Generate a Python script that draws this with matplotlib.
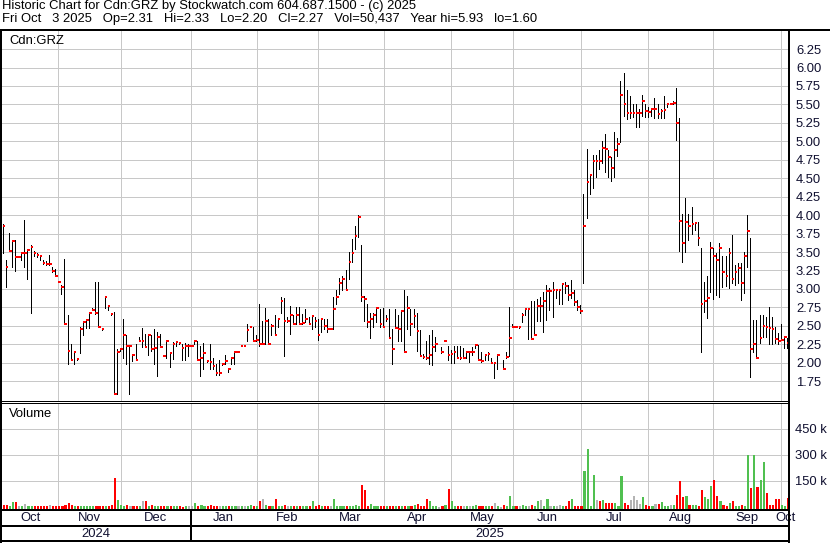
import numpy as np
import matplotlib.pyplot as plt
from matplotlib.lines import Line2D

plt.rcParams['font.family'] = ['Liberation Sans', 'DejaVu Sans']

nan = float('nan')

# daily bars, Oct 2024 .. Oct 3 2025 (nan = no trade)
highs = [
    3.88, 3.39, 3.76, 3.66, 3.66, 3.43, 3.49, 3.94, 3.54, 3.60,
    3.51, 3.48, 3.45, 3.39, 3.38, 3.46, 3.30, 3.27, 3.10, 3.05,
    3.41, 2.65, 2.25, 2.15, 2.06, 2.48, 2.56, 2.58, 2.68, 2.74,
    3.10, 3.10, 2.47, 2.90, 2.77, 2.68, 2.69, 2.19, 2.20, 2.59,
    2.38, 2.22, 2.11, 2.25, 2.35, 2.47, 2.39, 2.38, 2.37, 2.46,
    2.41, 2.39, 2.09, 2.30, 2.13, 2.28, 2.29, 2.28, 2.25, 2.27,
    2.25, 2.23, 2.30, 2.29, 2.22,
    2.27, 2.03, 2.25, 2.06, 1.98, 2.04, 1.98, 2.11, 1.92, 2.07,
    2.15, 2.14, 2.23, 2.23, 2.53, 2.48, 2.48, 2.37, 2.79, 2.57,
    2.74, 2.59, 2.53, 2.64, 2.59, 2.89, 2.88, 2.62, 2.77, 2.64,
    2.75, 2.75, 2.66, 2.73, 2.62, 2.64, 2.62, 2.59, 2.59, 2.59,
    2.59, 2.47, 2.89, 2.99, 3.15, 3.18, 3.25, 3.50, 3.67, 3.85,
    4.00, 3.59, 2.91, 2.80, 2.68, 2.68, 2.74, 2.73, 2.74, 2.65,
    2.73, 2.46, 2.73, 2.64, 2.71, 2.98, 2.91, 2.73, 2.73, 2.68,
    2.44, 2.12, 2.30, 2.38, 2.44, 2.35, nan, 2.21, 2.29, 2.23,
    2.17, 2.22, 2.22, 2.23, 2.20, 2.16, 2.16, 2.21, 2.24, 2.24,
    2.14, 2.12, 2.14, 2.07, 2.01, 2.10, nan, 2.04, 2.15, 2.75,
    2.53, 2.48, 2.50, 2.68, 2.74, 2.73, 2.84, 2.84, 2.87, 2.89,
    2.96, 3.05, 3.01, 3.10, 3.00, 3.00, 3.08,
    3.10, 3.05, 3.12, 2.98, 2.85, 2.78,
    4.29, 4.89, 4.55, 4.81, 4.81, 4.88, 5.00, 5.10, 4.88, 4.79,
    5.13, 5.05, 5.82, 5.93, 5.69, 5.61, 5.50, 5.50, 5.44, 5.63,
    5.51, 5.47, 5.44, 5.59, 5.51, 5.44, 5.61, 5.52, 5.52, 5.54,
    5.72, 5.31,
    4.02, 4.23, 4.02, 4.11, 3.91, 3.90, 3.55, 3.10, 3.17, 3.64,
    3.55, 3.48, 3.62, 3.44, 3.44, 3.55, 3.73, 3.32, 3.35, 3.35,
    3.50, 4.00, 3.69, 2.58, 2.58, 2.65, 2.65, 2.62, 2.76, 2.62,
    2.49, 2.40, 2.53, 2.35, 2.33,
]
lows = [
    3.48, 3.03, 3.52, 3.30, 3.24, 3.43, 3.39, 3.30, 3.13, 2.68,
    3.44, 3.43, 3.39, 3.34, 3.33, 3.33, 3.23, 3.18, 3.10, 2.93,
    2.53, 1.98, 2.03, 1.98, 2.04, 2.13, 2.38, 2.47, 2.47, 2.71,
    2.66, 2.48, 2.44, 2.74, 2.71, 2.64, 1.58, 1.58, 2.16, 2.07,
    1.98, 1.58, 2.02, 2.03, 2.29, 2.21, 2.21, 2.10, 2.16, 1.98,
    1.82, 2.21, 2.09, 2.07, 1.94, 2.05, 2.22, 2.26, 2.03, 2.03,
    2.09, 2.23, 2.26, 2.03, 1.82,
    1.92, 2.01, 1.92, 1.92, 1.84, 1.84, 1.97, 1.98, 1.87, 1.98,
    1.98, 2.14, 2.23, 2.23, 2.30, 2.48, 2.30, 2.30, 2.23, 2.25,
    2.25, 2.26, 2.37, 2.37, 2.48, 2.68, 2.09, 2.55, 2.39, 2.52,
    2.53, 2.53, 2.53, 2.55, 2.53, 2.46, 2.48, 2.31, 2.41, 2.45,
    2.41, 2.45, 2.46, 2.80, 2.93, 2.98, 2.98, 3.14, 3.36, 3.54,
    3.70, 2.84, 2.57, 2.48, 2.34, 2.48, 2.55, 2.48, 2.48, 2.57,
    2.34, 1.98, 2.47, 2.30, 2.30, 2.15, 2.46, 2.38, 2.48, 2.16,
    2.09, 2.06, 2.05, 1.98, 1.97, 2.16, nan, 2.13, 2.29, 2.04,
    1.99, 1.99, 2.06, 2.05, 2.06, 2.06, 2.01, 2.10, 2.20, 2.03,
    2.01, 2.03, 2.04, 1.99, 1.79, 1.92, nan, 1.92, 2.07, 2.09,
    2.48, 2.48, 2.47, 2.55, 2.64, 2.32, 2.32, 2.37, 2.57, 2.57,
    2.41, 2.58, 2.71, 2.62, 2.88, 2.80, 2.80,
    2.95, 2.85, 2.88, 2.78, 2.72, 2.68,
    3.08, 3.96, 4.29, 4.37, 4.51, 4.63, 4.70, 4.58, 4.51, 4.46,
    4.51, 4.80, 4.99, 5.34, 5.30, 5.32, 5.33, 5.20, 5.20, 5.34,
    5.33, 5.33, 5.34, 5.31, 5.32, 5.32, 5.31, 5.47, 5.50, 5.50,
    5.02, 3.52,
    3.37, 3.50, 3.66, 3.75, 3.80, 3.60, 2.15, 2.69, 2.60, 2.96,
    2.87, 2.92, 2.89, 3.03, 3.04, 3.01, 3.08, 3.05, 3.08, 2.85,
    2.94, 3.30, 1.81, 2.15, 2.07, 2.27, 2.35, 2.35, 2.26, 2.26,
    2.27, 2.26, 2.31, 2.20, 2.20,
]
closes = [
    3.85, 3.30, 3.52, 3.65, 3.43, 3.43, 3.49, 3.49, 3.53, 3.57,
    3.49, 3.46, 3.44, 3.35, 3.34, 3.34, 3.24, 3.18, 3.10, 3.02,
    2.53, 2.16, 2.03, 2.14, 2.05, 2.46, 2.55, 2.58, 2.68, 2.72,
    2.67, 2.48, 2.45, 2.89, 2.77, 2.66, 1.58, 2.14, 2.18, 2.37,
    2.22, 2.22, 2.10, 2.03, 2.29, 2.29, 2.21, 2.37, 2.19, 2.20,
    2.35, 2.21, 2.09, 2.29, 2.13, 2.26, 2.28, 2.27, 2.20, 2.23,
    2.23, 2.23, 2.29, 2.03, 2.06,
    2.13, 2.02, 2.01, 1.95, 1.86, 1.86, 1.98, 2.02, 1.91, 2.06,
    2.14, 2.14, 2.23, 2.23, 2.44, 2.48, 2.30, 2.31, 2.25, 2.25,
    2.57, 2.26, 2.50, 2.37, 2.59, 2.83, 2.57, 2.57, 2.64, 2.52,
    2.64, 2.53, 2.54, 2.59, 2.53, 2.63, 2.56, 2.38, 2.59, 2.50,
    2.46, 2.46, 2.73, 2.89, 3.08, 3.13, 2.98, 3.37, 3.49, 3.72,
    3.97, 2.89, 2.86, 2.55, 2.59, 2.65, 2.74, 2.53, 2.48, 2.59,
    2.34, 2.18, 2.47, 2.46, 2.70, 2.15, 2.74, 2.52, 2.63, 2.43,
    2.09, 2.08, 2.06, 2.11, 2.21, 2.25, nan, 2.14, 2.29, 2.11,
    2.12, 2.15, 2.07, 2.06, 2.06, 2.14, 2.14, 2.15, 2.24, 2.04,
    2.02, 2.10, 2.12, 1.99, 1.99, 2.10, nan, 1.92, 2.08, 2.33,
    2.49, 2.48, 2.48, 2.64, 2.73, 2.73, 2.32, 2.38, 2.77, 2.77,
    2.84, 2.97, 2.97, 2.98, 2.98, 2.98, 3.06,
    3.04, 2.92, 2.95, 2.82, 2.75, 2.70,
    3.85, 4.45, 4.55, 4.74, 4.74, 4.73, 4.91, 4.89, 4.79, 4.64,
    4.88, 4.96, 5.63, 5.51, 5.39, 5.39, 5.39, 5.39, 5.39, 5.54,
    5.41, 5.40, 5.44, 5.44, 5.37, 5.41, 5.42, 5.50, 5.50, 5.52,
    5.25, 3.92,
    3.62, 3.91, 3.85, 3.88, 3.89, 3.69, 2.80, 2.83, 2.88, 3.55,
    3.44, 3.39, 3.55, 3.23, 3.17, 3.49, 3.13, 3.23, 3.29, 3.08,
    3.45, 3.79, 2.18, 2.25, 2.07, 2.34, 2.50, 2.48, 2.47, 2.45,
    2.32, 2.30, 2.31, 2.35, 2.27,
]
# volume, thousands of shares
volumes_k = [
    12, 8, 4, 26, 30, 3, 4, 16, 5, 4,
    3, 5, 4, 3, 6, 12, 4, 4, 6, 3,
    10, 24, 12, 4, 3, 5, 4, 3, 5, 6,
    4, 5, 3, 6, 4, 8, 169, 42, 12, 5,
    12, 6, 5, 4, 3, 36, 36, 4, 12, 6,
    4, 3, 5, 4, 3, 6, 4, 3, 2, 4,
    3, 5, 20, 4, 12, 3, 5, 10, 5, 3,
    4, 6, 3, 4, 5, 3, 4, 6, 3, 5,
    8, 4, 6, 32, 43, 8, 4, 5, 48, 6,
    4, 12, 5, 3, 4, 6, 3, 5, 4, 6,
    32, 4, 8, 5, 3, 4, 6, 43, 5, 4,
    3, 6, 4, 5, 8, 6, 129, 98, 5, 16,
    4, 6, 3, 5, 4, 6, 3, 4, 5, 3,
    6, 4, 5, 8, 16, 6, 4, 43, 32, 5,
    4, 0, 3, 8, 105, 32, 5, 4, 6, 3,
    4, 5, 6, 12, 4, 3, 6, 5, 4, 20,
    6, 0, 8, 5, 65, 6, 4, 5, 12, 4,
    6, 8, 5, 36, 40, 6, 45, 5, 4, 6,
    8, 5, 6, 36, 43, 5, 3, 4, 206, 332,
    5, 187, 41, 36, 40, 25, 25, 25, 25, 6,
    181, 25, 10, 40, 65, 42, 16, 59, 12, 6,
    5, 16, 16, 26, 6, 5, 8, 12, 70, 148,
    59, 65, 12, 12, 12, 6, 98, 59, 45, 123,
    158, 61, 36, 8, 6, 25, 36, 5, 6, 8,
    5, 301, 107, 301, 113, 158, 258, 82, 12, 12,
    47, 43, 12, 6, 50.437,
]

# first bar of each month, in bar units
month_starts = [17.9, 38.3, 60.8, 82.2, 102.0, 123.3, 145.0, 165.3, 187.2, 208.9, 230.0, 252.0]
month_names = ['Oct', 'Nov', 'Dec', 'Jan', 'Feb', 'Mar', 'Apr', 'May', 'Jun', 'Jul', 'Aug', 'Sep', 'Oct']
years = ['2024', '2025']
price_ticks = [1.75, 2.00, 2.25, 2.50, 2.75, 3.00, 3.25, 3.50, 3.75, 4.00, 4.25,
               4.50, 4.75, 5.00, 5.25, 5.50, 5.75, 6.00, 6.25]
vol_ticks = [150000, 300000, 450000]
vol_labels = ['150 k', '300 k', '450 k']

line1 = 'Historic Chart for Cdn:GRZ by Stockwatch.com 604.687.1500 - (c) 2025'
line2 = 'Fri Oct   3 2025   Op=2.31   Hi=2.33   Lo=2.20   Cl=2.27   Vol=50,437   Year hi=5.93   lo=1.60'

W, H = 830, 543
PX = 0.72  # one pixel in points
FS = 9.4
GRID = '#c8c8c8'
RED = '#ff0000'
GREEN = '#50c050'
GREY = '#b4b4b4'
LBL = '#101030'

hi = np.array(highs)
lo = np.array(lows)
cl = np.array(closes)
vol = np.array(volumes_k) * 1000
x = np.arange(len(cl))
ok = ~np.isnan(cl)
xmin, xmax = -0.23, len(cl) - 1 + 0.55

fig = plt.figure(figsize=(W / 100, H / 100), dpi=100)


def rect(left, top, right, bottom):
    return [left / W, 1 - bottom / H, (right - left) / W, (bottom - top) / H]


# price panel
ax = fig.add_axes(rect(2, 31, 789, 401))
ax.set_xlim(xmin, xmax)
ax.set_ylim(1.481, 6.495)
ax.set_axisbelow(True)
ax.set_xticks(month_starts)
ax.set_yticks(price_ticks)
ax.set_yticklabels(['%.2f' % t for t in price_ticks])
ax.grid(True, color=GRID, linewidth=PX)
ax.yaxis.tick_right()
ax.tick_params(axis='x', length=0, labelbottom=False)
ax.tick_params(axis='y', length=0, pad=5, labelsize=FS, labelcolor=LBL)
for s in ax.spines.values():
    s.set_visible(False)
ax.vlines(x[ok], lo[ok], hi[ok], colors='black', linewidth=PX, antialiased=False)
ax.hlines(cl[ok], x[ok], x[ok] + 0.85, colors=RED, linewidth=2 * PX, antialiased=False)
ax.text(0.009, 0.972, 'Cdn:GRZ', transform=ax.transAxes, fontsize=FS, va='center', ha='left')

# volume panel
vcol = []
prev = None
for c in cl:
    if np.isnan(c):
        vcol.append(GREY)
        continue
    if prev is None or c < prev:
        vcol.append(RED)
    elif c > prev:
        vcol.append(GREEN)
    else:
        vcol.append(GREY)
    prev = c

vbase = -18000
axv = fig.add_axes(rect(2, 403, 789, 510))
axv.set_xlim(xmin, xmax)
axv.set_ylim(vbase, 600000)
axv.set_axisbelow(True)
axv.set_xticks(month_starts)
axv.set_yticks(vol_ticks)
axv.set_yticklabels(vol_labels)
axv.grid(True, color=GRID, linewidth=PX)
axv.yaxis.tick_right()
axv.tick_params(axis='x', length=0, labelbottom=False)
axv.tick_params(axis='y', length=0, pad=4, labelsize=FS, labelcolor=LBL)
for s in axv.spines.values():
    s.set_visible(False)
axv.bar(x, vol - vbase, bottom=vbase, width=0.7, align='edge', color=vcol,
        linewidth=0, antialiased=False)
axv.text(0.009, 0.9, 'Volume', transform=axv.transAxes, fontsize=FS, va='center', ha='left')

# month / year rows
axm = fig.add_axes(rect(2, 510, 789, 541))
axm.set_xlim(xmin, xmax)
axm.set_ylim(0, 1)
axm.axis('off')
bounds = [xmin] + month_starts + [xmax]
for i, name in enumerate(month_names):
    axm.text((bounds[i] + bounds[i + 1]) / 2, 0.74, name, fontsize=FS, color=LBL,
             ha='center', va='center', clip_on=False)
ybounds = [xmin, month_starts[2], xmax]
for i, name in enumerate(years):
    axm.text((ybounds[i] + ybounds[i + 1]) / 2, 0.23, name, fontsize=FS, color=LBL,
             ha='center', va='center')
axm.axvline(month_starts[2], color='black', linewidth=2 * PX, antialiased=False)


def fline(xs, ys, w):
    fig.add_artist(Line2D([v / W for v in xs], [1 - v / H for v in ys], color='black',
                          linewidth=w * PX, antialiased=False, transform=fig.transFigure))


fline([0, W], [30.3, 30.3], 2)
fline([1, 1], [30, H], 2)
fline([789, 789], [30, H], 2)
fline([0, 789], [401, 401], 1)
fline([0, 789], [403, 403], 1)
fline([0, 789], [510, 510], 2)
fline([0, 789], [526, 526], 2)
fline([0, 789], [541, 541], 2)

fig.text(2 / W, 1 - 6.5 / H, line1, fontsize=FS, va='center', ha='left')
fig.text(2 / W, 1 - 19 / H, line2, fontsize=FS, va='center', ha='left')

fig.savefig('out.png', dpi=100)
